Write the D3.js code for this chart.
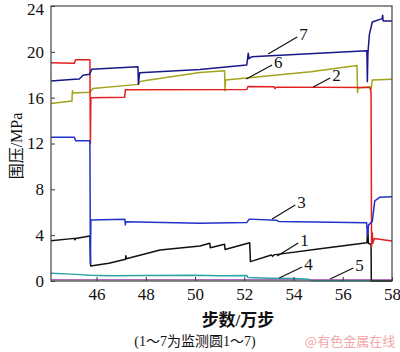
<!DOCTYPE html>
<html lang="zh">
<head>
    <meta charset="UTF-8">
    <title>围压随步数变化</title>
    <script src="https://d3js.org/d3.v7.min.js"></script>
    <style>
        body { margin: 0; background: #fff; }
        svg { display: block; }
        .tick line { stroke: #333; }
        .line { fill: none; stroke-width: 1.5; stroke-linejoin: round; }
    </style>
</head>
<body>
    <svg width="400" height="352"></svg>

    <script>
        // 步数 (万步) / 围压 (MPa)
        const s1 = [[44.15,3.52],[45.1,3.72],[45.12,3.6],[45.15,3.7],[45.73,3.93],[45.76,1.3],[46.5,1.55],[47.18,1.9],[47.19,2.2],[47.21,1.95],[48.58,2.7],[50.2,3.05],[50.6,3.29],[50.62,2.9],[51.2,3.2],[51.22,2.75],[52.22,3.34],[52.25,1.69],[53.1,2.27],[53.15,2.15],[53.2,2.28],[55,2.8],[56.98,3.34],[57.02,4.6],[57.04,3.3],[57.15,3.2],[57.16,0],[58,0]];
        const s2 = [[44.15,19.05],[45.1,19.0],[45.15,19.3],[45.73,19.3],[45.75,12.0],[45.77,16.0],[47.14,16.03],[47.17,16.7],[52.1,16.72],[52.15,16.98],[53.2,16.95],[53.25,16.8],[53.3,16.92],[57.1,16.88],[57.15,16.5],[57.17,3.0],[57.2,4.2],[57.22,3.3],[57.28,3.7],[58,3.5]];
        const s3 = [[44.15,12.54],[45.1,12.54],[45.15,12.24],[45.73,12.24],[45.75,1.5],[45.77,5.32],[47.15,5.38],[47.17,4.9],[47.19,5.17],[50.2,5.03],[52.1,5.1],[52.2,5.4],[53.3,5.3],[53.4,5.2],[56.97,5.09],[57.0,4.0],[57.05,4.9],[57.2,5.2],[57.3,7.0],[57.5,7.3],[58,7.36]];
        const s4 = [[44.15,0.67],[45.0,0.6],[45.75,0.5],[46.5,0.45],[48,0.48],[50,0.5],[51,0.45],[52.1,0.48],[52.15,0.3],[53,0.25],[54,0.22],[54.6,0.15],[54.75,0.03],[58,0.03]];
        const s5 = [[44.15,0.1],[50,0.1],[58,0.1]];
        const s6 = [[44.15,15.5],[45.0,15.7],[45.02,16.6],[45.05,16.4],[45.73,16.47],[45.85,16.8],[47.7,17.16],[47.75,17.4],[48.0,17.5],[50.2,18.2],[51.2,18.35],[51.22,16.6],[51.24,17.54],[54.7,18.26],[56.58,18.8],[56.6,16.43],[56.62,16.85],[57.1,16.95],[57.15,16.7],[57.2,17.54],[58,17.6]];
        const s7 = [[44.15,17.45],[45.1,17.6],[45.3,17.63],[45.45,17.95],[45.72,18.05],[45.8,18.47],[47.68,18.7],[47.7,17.16],[47.75,18.17],[50.2,18.45],[52.1,18.85],[52.13,19.3],[52.16,19.87],[52.2,19.4],[52.3,19.57],[56.98,20.1],[57.0,17.4],[57.02,19.8],[57.08,21.5],[57.2,22.6],[57.6,22.9],[57.62,23.2],[57.64,22.7],[58,22.7]];

        const xTicks = [46, 48, 50, 52, 54, 56, 58];
        const yTicks = [0, 4, 8, 12, 16, 20, 24];

        // label leader lines: [name, from step, from MPa, to step, to MPa]
        const labels = [
            ["7", 52.97, 19.81, 54.15, 21.29],
            ["6", 52.08, 17.63, 53.13, 18.85],
            ["2", 54.8, 16.93, 55.49, 17.71],
            ["3", 53.13, 5.41, 54.07, 6.63],
            ["1", 53.34, 2.18, 54.19, 3.32],
            ["4", 53.42, 0.26, 54.35, 1.22],
            ["5", 55.49, 0.17, 56.43, 1.13]
        ];

        const series = [
            { data: s5, color: "#b070b8" },
            { data: s4, color: "#2fa3a3" },
            { data: s1, color: "#111111" },
            { data: s6, color: "#a3a31c" },
            { data: s2, color: "#e41f1f" },
            { data: s3, color: "#2233cc" },
            { data: s7, color: "#17178a" }
        ];

        const serif = "'Liberation Serif', 'Times New Roman', serif";
        const cjk = "'Liberation Serif', 'Noto Sans CJK SC', serif";

        const margin = { top: 6, right: 8, bottom: 71, left: 51 };
        const width = 400 - margin.left - margin.right;
        const height = 352 - margin.top - margin.bottom;

        const svg = d3.select("svg")
            .append("g")
            .attr("transform", `translate(${margin.left},${margin.top})`);

        const x = d3.scaleLinear().domain([44.15, 58]).range([0, width]);
        const y = d3.scaleLinear().domain([0, 24]).range([height, 0]);

        const line = d3.line()
            .x(d => x(d[0]))
            .y(d => y(d[1]));

        series.forEach(s => {
            svg.append("path")
                .datum(s.data)
                .attr("class", "line")
                .attr("d", line)
                .style("stroke", s.color);
        });

        // axes, ticks point inwards
        const yAxis = svg.append("g")
            .call(d3.axisLeft(y).tickValues(yTicks).tickSizeInner(-4).tickSizeOuter(0).tickPadding(7));
        yAxis.select(".domain").remove();
        // keep the top label inside the page
        yAxis.selectAll(".tick text").filter(d => d === 24).attr("dy", "0.5em");

        const xAxis = svg.append("g")
            .attr("transform", `translate(0,${height})`)
            .call(d3.axisBottom(x).tickValues(xTicks).tickSizeInner(-4).tickSizeOuter(0).tickPadding(7));
        xAxis.select(".domain").remove();

        [xAxis, yAxis].forEach(a => a
            .attr("font-family", serif)
            .attr("font-size", 17)
            .selectAll("text").attr("fill", "#111"));

        svg.append("rect")
            .attr("width", width)
            .attr("height", height)
            .attr("fill", "none")
            .attr("stroke", "#444")
            .attr("stroke-width", 1.2);

        // curve labels
        labels.forEach(l => {
            svg.append("line")
                .attr("x1", x(l[1])).attr("y1", y(l[2]))
                .attr("x2", x(l[3])).attr("y2", y(l[4]))
                .attr("stroke", "#111")
                .attr("stroke-width", 1.2);
            svg.append("text")
                .attr("x", x(l[3]) + 2)
                .attr("y", y(l[4]) + 3)
                .attr("font-family", serif)
                .attr("font-size", 17)
                .attr("fill", "#111")
                .text(l[0]);
        });

        const root = d3.select("svg");

        root.append("text")
            .attr("transform", "translate(22,146) rotate(-90)")
            .attr("text-anchor", "middle")
            .attr("font-family", cjk)
            .attr("font-size", 16)
            .attr("fill", "#111")
            .text("围压/MPa");

        root.append("text")
            .attr("x", 238).attr("y", 326)
            .attr("text-anchor", "middle")
            .attr("font-family", cjk)
            .attr("font-size", 17)
            .attr("font-weight", "bold")
            .attr("fill", "#111")
            .text("步数/万步");

        root.append("text")
            .attr("x", 195).attr("y", 346)
            .attr("text-anchor", "middle")
            .attr("font-family", cjk)
            .attr("font-size", 14)
            .attr("fill", "#111")
            .text("(1～7为监测圆1～7)");

        root.append("text")
            .attr("x", 350).attr("y", 346)
            .attr("text-anchor", "middle")
            .attr("font-family", "'Noto Sans CJK SC', sans-serif")
            .attr("font-size", 13)
            .attr("fill", "#f2a6a6")
            .text("@有色金属在线");
    </script>
</body>
</html>
